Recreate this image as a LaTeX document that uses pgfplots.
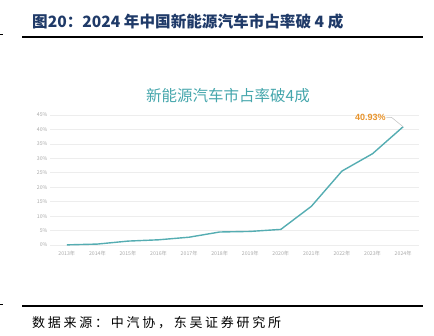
\documentclass[border=0pt]{standalone}
\usepackage{pgfplots}
\pgfplotsset{compat=1.18}
\usepackage{fontspec}
\setmainfont{Liberation Sans}
\newfontfamily\cjk{Noto Sans CJK SC}
\definecolor{navy}{HTML}{1F3A68}
\definecolor{teal1}{HTML}{55ADB2}
\definecolor{tealt}{HTML}{45A6AC}
\definecolor{org}{HTML}{E8932A}
\definecolor{tickg}{HTML}{A8A8A8}
\begin{document}
\begin{tikzpicture}
\path[use as bounding box] (0bp,0bp) rectangle (434bp,336bp);
% header
\node[anchor=west, text=navy, font=\cjk\bfseries\fontsize{15.6bp}{17bp}\selectfont, inner sep=0pt] at (32bp,314bp) {图20：2024 年中国新能源汽车市占率破 4 成};
\draw[line width=1.2bp] (22bp,299bp) -- (423bp,299bp);
\draw[line width=1bp] (0bp,301bp) -- (3bp,301bp);
% footer
\draw[line width=1.2bp] (22bp,30bp) -- (423bp,30bp);
\draw[line width=1bp] (0bp,31bp) -- (3bp,31bp);
\node[anchor=west, font=\cjk\fontsize{13bp}{15bp}\selectfont\addfontfeature{LetterSpace=21}, inner sep=0pt] at (32bp,13.5bp) {数据来源：中汽协，东吴证券研究所};
% chart title
\node[text=tealt, font=\cjk\fontsize{15.5bp}{17bp}\selectfont, inner sep=0pt] at (228bp,240bp) {新能源汽车市占率破4成};
\begin{axis}[
  at={(50bp,91bp)}, anchor=south west, scale only axis,
  width=369bp, height=130bp,
  xmin=2012.45, xmax=2024.52, ymin=0, ymax=45,
  axis line style={draw=none},
  tick style={draw=none},
  ymajorgrids, major grid style={color=black!7, line width=0.6bp},
  ytick={0,5,10,15,20,25,30,35,40,45},
  yticklabels={0\%,5\%,10\%,15\%,20\%,25\%,30\%,35\%,40\%,45\%},
  xtick={2013,2014,2015,2016,2017,2018,2019,2020,2021,2022,2023,2024},
  xticklabels={2013年,2014年,2015年,2016年,2017年,2018年,2019年,2020年,2021年,2022年,2023年,2024年},
  ticklabel style={font=\cjk\fontsize{5.2bp}{6bp}\selectfont, text=tickg},
  yticklabel style={xshift=1bp},
  xticklabel style={yshift=-3bp},
  clip=false,
]
\addplot[color=teal1, line width=1.4bp, mark=none] coordinates {
(2013,0.04) (2014,0.32) (2015,1.35) (2016,1.8) (2017,2.7) (2018,4.5) (2019,4.7) (2020,5.4) (2021,13.4) (2022,25.6) (2023,31.6) (2024,40.93)
};
\draw[color=black!25, line width=0.5bp] (axis cs:2024,40.93) -- (axis cs:2023.62,44.2) -- (axis cs:2023.45,44.2);
\node[anchor=east, text=org, font=\bfseries\fontsize{9bp}{10bp}\selectfont, inner sep=1bp] at (axis cs:2023.47,44.2) {40.93\%};
\end{axis}
\end{tikzpicture}
\end{document}
